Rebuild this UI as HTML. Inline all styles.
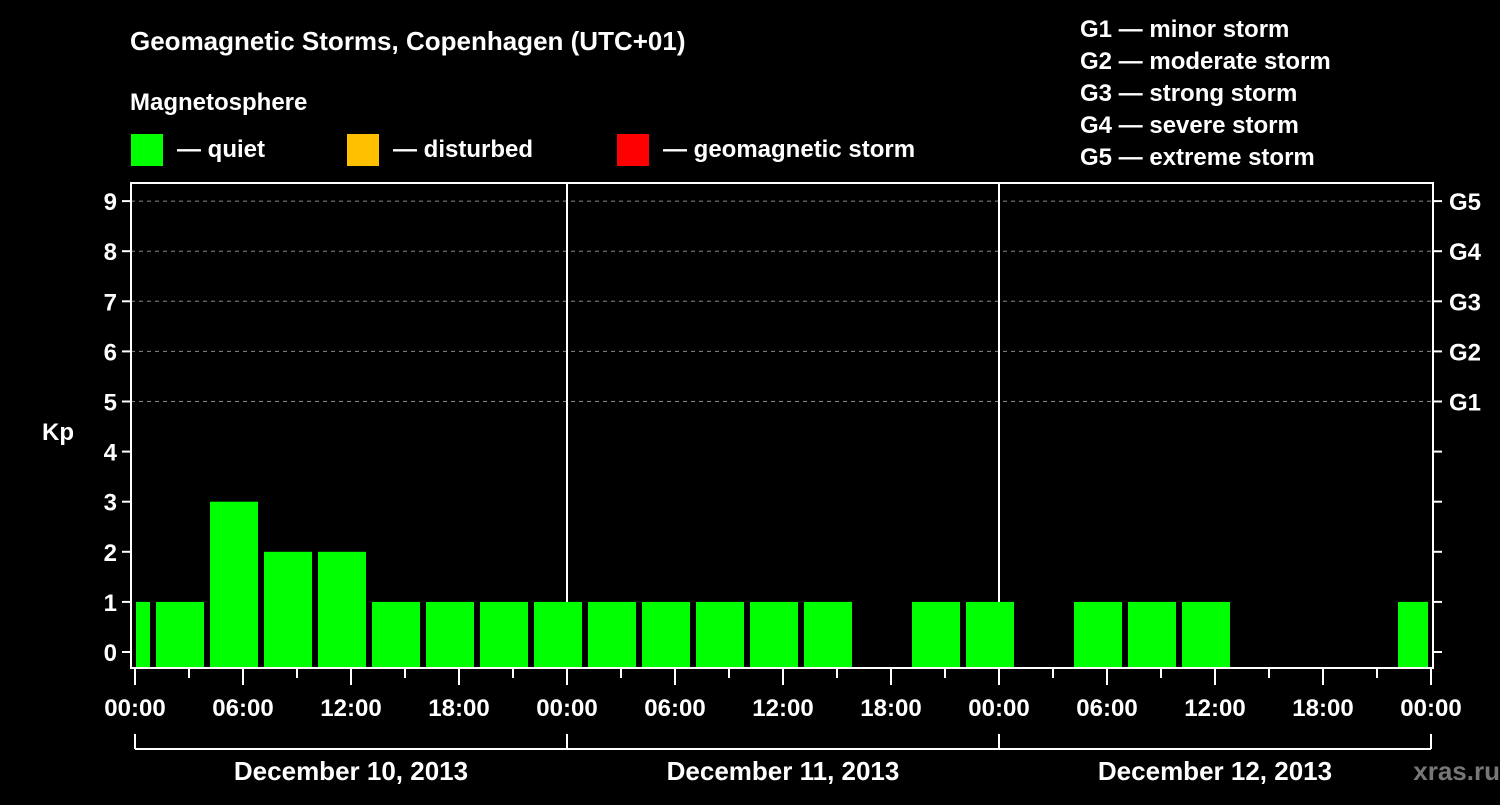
<!DOCTYPE html>
<html><head><meta charset="utf-8"><style>
body{margin:0;background:#000;}
svg text{font-family:"Liberation Sans",Arial,sans-serif;font-weight:bold;fill:#fff;}
</style></head><body>
<svg width="1500" height="800" viewBox="0 0 1500 800">
<rect width="1500" height="800" fill="#000"/>
<text x="130" y="50" font-size="26">Geomagnetic Storms, Copenhagen (UTC+01)</text>
<text x="130" y="110" font-size="24">Magnetosphere</text>
<g><rect x="131" y="134" width="32" height="32" fill="#00ff00"/><text x="177" y="157" font-size="24">— quiet</text></g>
<g><rect x="347" y="134" width="32" height="32" fill="#ffc000"/><text x="393" y="157" font-size="24">— disturbed</text></g>
<g><rect x="617" y="134" width="32" height="32" fill="#ff0000"/><text x="663" y="157" font-size="24">— geomagnetic storm</text></g>
<g font-size="24">
<text x="1080" y="37">G1 — minor storm</text>
<text x="1080" y="69">G2 — moderate storm</text>
<text x="1080" y="101">G3 — strong storm</text>
<text x="1080" y="133">G4 — severe storm</text>
<text x="1080" y="165">G5 — extreme storm</text>
</g>
<g id="plot"></g>
<text x="1500" y="780" font-size="26" text-anchor="end" fill="#777" style="fill:#777">xras.ru</text>
</svg>
<script>
const barStartHours=[-2,1,4,7,10,13,16,19,22,25,28,31,34,37,40,43,46,49,52,55,58,61,64,67,70];
const kpValues=[1,1,3,2,2,1,1,1,1,1,1,1,1,1,0,1,1,0,1,1,1,0,0,0,1];
const yTicks=[0,1,2,3,4,5,6,7,8,9];
const gLabels=["G1","G2","G3","G4","G5"];
const hourLabels=["00:00","06:00","12:00","18:00"];
const dayLabels=["December 10, 2013","December 11, 2013","December 12, 2013"];
const NS="http://www.w3.org/2000/svg";
const g=document.getElementById('plot');
const L=131,R=1433,T=183,B=668,X0=135,PH=18;
const x=h=>X0+h*PH;
const y=v=>652-50.1*v;
function el(t,a,p){const e=document.createElementNS(NS,t);for(const k in a)e.setAttribute(k,a[k]);(p||g).appendChild(e);return e;}
// grid
for(let v=5;v<=9;v++){const l=el('line',{x1:L,x2:R,y1:y(v),y2:y(v),stroke:'#888','stroke-dasharray':'4,4'});

}
// day separators
for(let d=1;d<3;d++){const l=el('line',{x1:x(24*d),x2:x(24*d),y1:T,y2:B,stroke:'#fff','stroke-width':2});

}
// bars
barStartHours.forEach((h,i)=>{const v=kpValues[i];if(v<=0)return;
const c=v>=5?'#ff0000':(v>=4?'#ffc000':'#00ff00');
const x1=Math.max(x(h)+3,L+5),x2=Math.min(x(h+3)-3,R-5);
const r=el('rect',{x:x1,y:y(v),width:x2-x1,height:B-1-y(v),fill:c});

});
// frame
const f=el('rect',{x:L,y:T,width:R-L,height:B-T,fill:'none',stroke:'#fff','stroke-width':2});


// y ticks
yTicks.forEach(v=>{el('line',{x1:L-9,x2:L,y1:y(v),y2:y(v),stroke:'#fff','stroke-width':2});
el('line',{x1:R,x2:R+9,y1:y(v),y2:y(v),stroke:'#fff','stroke-width':2});
const t=el('text',{x:L-14,y:y(v)+9,'font-size':24,'text-anchor':'end'});t.textContent=v;

});
gLabels.forEach((s,i)=>{const t=el('text',{x:R+16,y:y(5+i)+9,'font-size':24});t.textContent=s;

});
const yt=el('text',{x:42,y:440,'font-size':24});yt.textContent='Kp';


// x ticks
for(let h=0;h<=72;h+=3){const major=h%6===0;
el('line',{x1:x(h),x2:x(h),y1:B,y2:B+(major?17:10),stroke:'#fff','stroke-width':2});
if(major){const t=el('text',{x:x(h),y:B+48,'font-size':24,'text-anchor':'middle'});t.textContent=hourLabels[(h/6)%4];

}}
// day brackets
el('line',{x1:x(0),x2:x(72),y1:749,y2:749,stroke:'#fff','stroke-width':2});
for(let d=0;d<=3;d++)el('line',{x1:x(24*d),x2:x(24*d),y1:734,y2:749,stroke:'#fff','stroke-width':2});
dayLabels.forEach((s,d)=>{const t=el('text',{x:x(24*d+12),y:780,'font-size':26,'text-anchor':'middle'});t.textContent=s;

});
</script>
</body></html>
